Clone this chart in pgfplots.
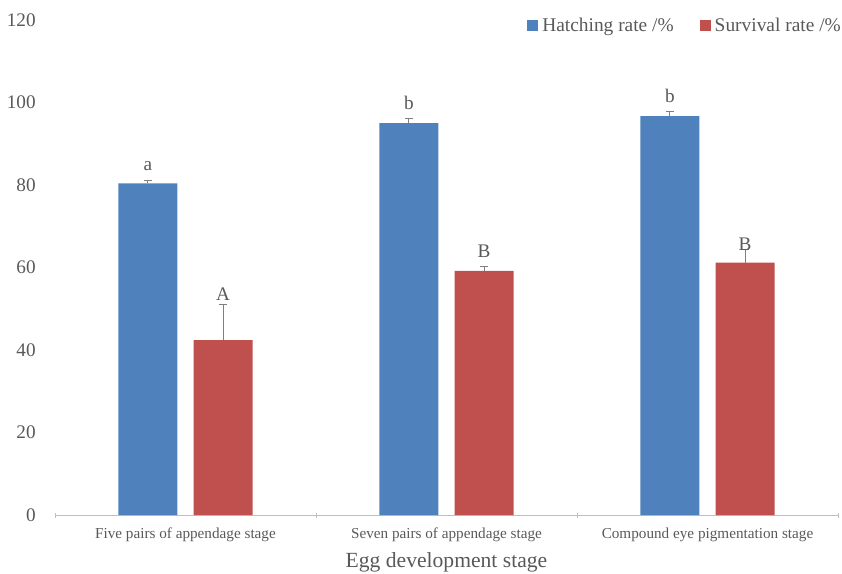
\documentclass[border=0pt]{standalone}
\usepackage{pgfplots}
\pgfplotsset{compat=1.18}
\usepackage{fontspec}
\setmainfont{Liberation Serif}

\definecolor{hatch}{HTML}{4F81BD}
\definecolor{surv}{HTML}{C0504D}
\definecolor{txt}{HTML}{595959}
\definecolor{axisgray}{HTML}{BFBFBF}
\definecolor{errgray}{HTML}{7F7F7F}

\pgfplotsset{
  sqleg/.style={legend image code/.code={\fill[##1] (0pt,-5.5pt) rectangle (11pt,5.5pt);}},
}

\begin{document}
\begin{tikzpicture}
\begin{axis}[
  scale only axis,
  width=783pt, height=495pt,
  ybar, bar width=0.226,
  xmin=-0.5, xmax=2.5,
  ymin=0, ymax=120,
  ytick={0,20,...,120},
  xtick={0,1,2},
  xticklabels={Five pairs of appendage stage, Seven pairs of appendage stage, Compound eye pigmentation stage},
  minor xtick={-0.5,0.5,1.5,2.5},
  major x tick style={draw=none},
  minor x tick style={draw=axisgray, line width=0.8pt},
  minor tick length=5pt,
  tick align=outside,
  axis x line=bottom, axis y line=left,
  axis line style={-},
  x axis line style={draw=axisgray, line width=0.8pt},
  y axis line style={draw=none},
  ytick style={draw=none},
  /pgf/number format/assume math mode=true,
  yticklabel style={font=\fontsize{19.2}{21}\selectfont, text=txt, anchor=east, inner sep=0pt, xshift=-17pt},
  xticklabel style={font=\fontsize{15.2}{17}\selectfont, text=txt, anchor=center, yshift=-18pt},
  xlabel={Egg development stage},
  xlabel style={font=\fontsize{21.6}{23}\selectfont, text=txt, at={(axis description cs:0.5,0)}, anchor=center, yshift=-47pt},
  legend columns=2,
  legend cell align=left,
  legend style={at={(rel axis cs:1,1)}, anchor=east, xshift=5pt, yshift=-6pt,
    draw=none, fill=none, inner sep=0pt,
    font=\fontsize{19.4}{21}\selectfont, text=txt,
    /tikz/every even column/.append style={column sep=24pt},
    /tikz/column sep=2pt},
]
\coordinate (O) at (rel axis cs:0,0);

\addplot[bar shift=-0.144, fill=hatch, draw=none, sqleg,
  error bars/.cd, y dir=plus, y explicit,
  error bar style={color=errgray, line width=1pt},
  error mark options={rotate=90, mark size=4pt, line width=1pt, color=errgray}]
  coordinates {(0,80.4) +- (0,0.8) (1,95.0) +- (0,1.0) (2,96.7) +- (0,1.0)};
\addlegendentry{Hatching rate /\%}

\addplot[bar shift=0.144, fill=surv, draw=none, sqleg,
  error bars/.cd, y dir=plus, y explicit,
  error bar style={color=errgray, line width=1pt},
  error mark options={rotate=90, mark size=4pt, line width=1pt, color=errgray}]
  coordinates {(0,42.4) +- (0,8.7) (1,59.2) +- (0,1.0) (2,61.2) +- (0,3.2)};
\addlegendentry{Survival rate /\%}

% significance letters
\begin{scope}[every node/.style={font=\fontsize{19.2}{21}\selectfont, text=txt, anchor=base, inner sep=0pt}]
\node at (axis cs:-0.144,83.6) {a};
\node at (axis cs:0.144,52.1) {A};
\node at (axis cs:0.856,98.2) {b};
\node at (axis cs:1.144,62.5) {B};
\node at (axis cs:1.856,99.9) {b};
\node at (axis cs:2.144,64.2) {B};
\end{scope}
\end{axis}
\pgfresetboundingbox
\path[use as bounding box] ([shift={(-55pt,-58pt)}]O) rectangle ++(842pt,573pt);
\end{tikzpicture}
\end{document}
